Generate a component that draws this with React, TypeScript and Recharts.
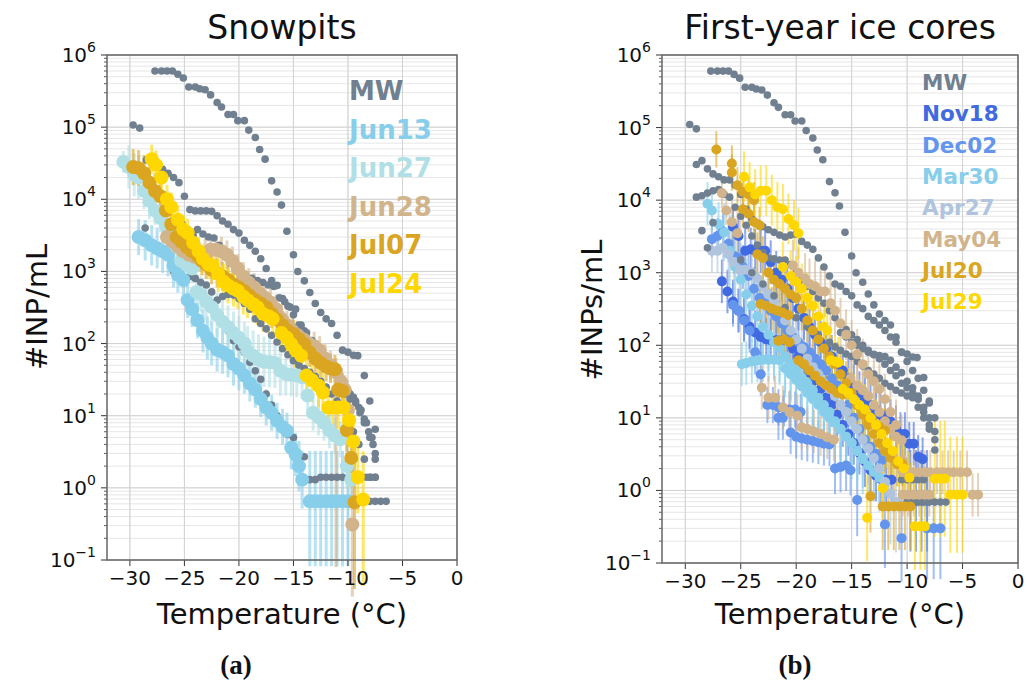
import React from 'react';
import { ScatterChart, Scatter, XAxis, YAxis, CartesianGrid, ErrorBar, ReferenceLine } from 'recharts';

// point tuples: [temperature °C, INP per mL, error down (decades), error up (decades, defaults to down)]
type Pt = number[];

const xTicks = [-30, -25, -20, -15, -10, -5, 0];
const yDecades = [0.1, 1, 10, 100, 1000, 10000, 100000, 1000000];
const yExponents = ['\u22121', '0', '1', '2', '3', '4', '5', '6'];
const yMinorSteps = [2, 3, 4, 5, 6, 7, 8, 9];

// ---------- MW reference spectra ----------
const mwTop: Pt[] = [
  [-27.7, 6.0e5], [-27.1, 6.0e5], [-26.6, 6.0e5], [-26.1, 6.0e5], [-25.6, 5.4e5], [-25.1, 4.8e5],
  [-24.6, 3.6e5], [-24.0, 3.6e5], [-23.6, 3.4e5], [-23.1, 3.3e5], [-22.6, 2.8e5], [-22.0, 2.2e5],
  [-21.6, 1.9e5], [-21.0, 1.5e5], [-20.5, 1.5e5], [-20.1, 1.23e5], [-19.5, 1.23e5], [-19.1, 9.1e4],
  [-18.5, 7.2e4], [-18.1, 4.9e4], [-17.6, 3.6e4], [-17.0, 1.8e4], [-16.5, 1.26e4], [-16.1, 8.3e3],
  [-15.6, 3.6e3], [-15.0, 1.7e3], [-14.6, 1.0e3], [-14.0, 740], [-13.5, 510], [-13.0, 360],
  [-12.5, 270], [-12.0, 220], [-11.5, 190], [-11.0, 130], [-10.5, 81], [-10.0, 76], [-9.5, 69],
  [-9.1, 68], [-8.5, 36], [-8.0, 16], [-7.5, 6.5],
];

const mwSnowB: Pt[] = [
  [-29.7, 1.07e5], [-29.1, 9.7e4], [-28.5, 3.5e4], [-28.0, 3.3e4], [-27.5, 3.0e4], [-27.0, 2.6e4],
  [-26.5, 2.3e4], [-26.0, 2.0e4], [-25.5, 1.7e4], [-25.0, 1.1e4], [-24.5, 7200], [-24.0, 6900],
  [-23.5, 6900], [-23.0, 6900], [-22.5, 6800], [-22.0, 5900], [-21.5, 5000], [-21.0, 4500],
  [-20.5, 3800], [-20.0, 3400], [-19.5, 2700], [-19.0, 2300], [-18.5, 1900], [-18.0, 1500],
  [-17.5, 1100], [-17.0, 750], [-16.5, 640], [-16.0, 420], [-15.5, 330], [-15.0, 250], [-14.5, 180],
  [-14.0, 150], [-13.5, 110], [-13.0, 90], [-12.5, 70], [-12.0, 55], [-11.5, 44], [-11.0, 36],
  [-10.5, 27], [-10.0, 22], [-9.5, 18], [-9.0, 13], [-8.5, 9], [-8.0, 5], [-7.5, 3],
];

const mwSnowC: Pt[] = [
  [-25.7, 5500], [-25.2, 4500], [-24.7, 3800], [-24.2, 3200], [-23.8, 3800], [-23.3, 3300],
  [-22.8, 3000], [-22.3, 2900], [-21.8, 2300], [-21.3, 1700], [-20.8, 1300], [-20.3, 1100],
  [-19.8, 900], [-19.3, 850], [-18.8, 800], [-18.3, 750], [-17.8, 700], [-17.3, 650], [-16.8, 620],
  [-16.3, 430], [-15.8, 380], [-15.3, 320], [-14.8, 300], [-14.3, 180], [-13.8, 140], [-13.3, 110],
  [-12.8, 90], [-12.3, 70], [-11.8, 50], [-11.3, 40], [-10.8, 30], [-10.3, 25], [-9.8, 20],
  [-9.3, 16], [-8.8, 12], [-8.3, 8], [-7.8, 5], [-7.5, 2.5],
];

const mwSnowD: Pt[] = [
  [-28.6, 4000], [-26.0, 1000], [-25.5, 850], [-25.0, 700], [-24.5, 850], [-24.0, 800], [-23.5, 700],
  [-23.0, 650], [-22.5, 520], [-22.0, 400], [-21.5, 450], [-21.0, 480], [-20.5, 470], [-20.0, 420],
  [-19.5, 360], [-19.0, 300], [-18.5, 220], [-18.0, 190], [-17.5, 160], [-17.0, 130], [-16.5, 105],
  [-16.0, 85], [-15.5, 70], [-15.0, 58], [-14.5, 50], [-14.0, 45], [-13.5, 40], [-13.0, 35],
  [-12.5, 30], [-12.0, 25], [-11.5, 20], [-11.0, 16], [-10.5, 12], [-10.0, 9], [-9.5, 6], [-9.0, 4],
  [-8.5, 2.5], [-8.0, 1.4], [-7.5, 1.4],
];

const mwSnowE: Pt[] = [
  [-21.0, 150], [-20.5, 110], [-20.0, 90], [-19.5, 75], [-19.0, 55], [-18.5, 42], [-18.0, 32],
  [-17.5, 20], [-17.0, 14], [-16.5, 10], [-16.0, 7], [-15.5, 5.5], [-15.0, 5], [-14.5, 2.8],
  [-14.0, 2.7], [-13.5, 1.3], [-13.0, 1.3], [-12.5, 1.4], [-12.0, 1.4], [-11.5, 1.4], [-11.0, 1.4],
  [-10.5, 1.4],
];

const mwSnowF: Pt[] = [
  [-10.2, 20], [-9.8, 17], [-9.3, 15], [-8.9, 11], [-8.5, 8], [-8.1, 6], [-7.7, 4], [-8.3, 1.4],
  [-7.9, 1.4], [-7.5, 1.4], [-8.0, 0.65], [-7.5, 0.65], [-7.0, 0.65], [-6.5, 0.65],
];

const mwIceB: Pt[] = [
  [-29.6, 1.1e5], [-29.0, 9.6e4], [-29.0, 3.1e4], [-28.5, 3.5e4], [-28.0, 2.7e4], [-27.5, 2.3e4],
  [-27.0, 2.1e4], [-26.5, 1.9e4], [-26.0, 1.9e4], [-25.5, 1.6e4], [-25.0, 1.2e4], [-24.5, 7500],
  [-24.0, 5500], [-23.5, 4800], [-23.0, 4300], [-22.5, 3900], [-22.0, 3600], [-21.5, 3300],
  [-21.0, 3100], [-20.5, 3300], [-20.0, 3400], [-19.5, 2700], [-19.0, 2400], [-18.5, 2100],
  [-18.0, 1600], [-17.5, 1200], [-17.0, 900], [-16.5, 700], [-16.0, 650], [-15.5, 550], [-15.0, 480],
  [-14.5, 360], [-14.0, 320], [-13.5, 250], [-13.0, 220], [-12.5, 190], [-12.0, 160], [-11.5, 130],
  [-11.0, 110], [-10.5, 80], [-10.0, 60], [-9.5, 45], [-9.0, 35], [-8.5, 24], [-8.0, 17], [-7.5, 10],
];

const mwIceC: Pt[] = [
  [-29.0, 11000], [-28.5, 11500], [-28.0, 12500], [-27.5, 13500], [-27.0, 14000], [-26.5, 12000],
  [-26.0, 11000], [-25.5, 8000], [-25.0, 6000], [-24.5, 4500], [-24.0, 3200], [-23.5, 2400],
  [-23.0, 1900], [-22.5, 1600], [-22.0, 1550], [-21.5, 1500], [-21.0, 1500], [-20.5, 1300],
  [-20.0, 1000], [-19.5, 800], [-19.0, 650], [-18.5, 550], [-18.0, 450], [-17.5, 380], [-17.0, 300],
  [-16.5, 240], [-16.0, 200], [-15.5, 165], [-15.0, 140], [-14.5, 120], [-14.0, 100], [-13.5, 80],
  [-13.0, 74], [-12.5, 72], [-12.0, 70], [-11.5, 62], [-11.0, 50], [-10.5, 42], [-10.0, 32],
  [-9.5, 26], [-9.0, 20], [-8.5, 12], [-8.0, 8], [-7.5, 5],
];

const mwIceD: Pt[] = [
  [-28.5, 3800], [-28.0, 2200], [-27.5, 4900], [-25.0, 1500], [-24.0, 1000], [-23.0, 700],
  [-22.0, 480], [-21.0, 330], [-20.0, 240], [-19.0, 180], [-18.0, 140], [-17.0, 110], [-16.5, 95],
  [-16.0, 85], [-15.5, 76], [-15.0, 70], [-14.5, 60], [-14.0, 52], [-13.5, 45], [-13.0, 40],
  [-12.5, 35], [-12.0, 30], [-11.5, 27], [-11.0, 24], [-10.5, 22], [-10.0, 20], [-9.5, 19],
  [-9.0, 14], [-8.5, 10], [-8.0, 7], [-7.5, 3.6],
];

const mwIceE: Pt[] = [
  [-10.5, 1.4], [-10.0, 1.4], [-9.5, 1.4], [-9.0, 1.4], [-8.5, 1.4], [-10.0, 0.69], [-9.5, 0.69],
  [-9.0, 0.69], [-8.5, 0.69], [-8.0, 0.69], [-7.5, 0.69], [-7.0, 0.69], [-6.5, 0.69],
];

const mwIceF: Pt[] = [
  [-16.0, 150], [-15.5, 130], [-15.0, 110], [-14.5, 100], [-14.0, 90], [-13.5, 85], [-13.0, 75],
  [-12.5, 65], [-12.0, 55], [-11.5, 45], [-11.0, 38], [-10.5, 30], [-10.0, 26], [-9.5, 22],
  [-9.0, 18], [-8.5, 14], [-8.0, 10],
];

// ---------- snowpits ----------
const jun13: Pt[] = [
  [-29.2, 3000, 0.25], [-28.6, 2700, 0.28], [-28.0, 2300, 0.28], [-27.5, 2100, 0.28], [-27.0, 1900, 0.3],
  [-26.5, 1700, 0.3], [-26.0, 1200, 0.3], [-25.6, 900, 0.25], [-25.1, 760, 0.25], [-24.7, 400, 0.25],
  [-24.3, 300, 0.25], [-23.8, 210, 0.25], [-23.3, 150, 0.3], [-22.9, 120, 0.3], [-22.5, 100, 0.3],
  [-22.0, 82, 0.3], [-21.5, 76, 0.3], [-21.0, 68, 0.3], [-20.5, 52, 0.3], [-20.0, 45, 0.3],
  [-19.5, 36, 0.25], [-19.0, 28, 0.25], [-18.5, 23, 0.25], [-18.0, 17, 0.25], [-17.5, 13, 0.25],
  [-17.0, 11, 0.25], [-16.5, 8.5, 0.25], [-16.0, 7, 0.25], [-15.6, 6.2, 0.25], [-15.2, 3.6, 0.3],
  [-14.8, 2.9, 0.3], [-14.5, 2.0, 0.35], [-14.2, 1.3, 0.4], [-13.5, 0.65, 0.9, 0.7],
  [-13.0, 0.65, 0.9, 0.7], [-12.5, 0.65, 0.9, 0.7], [-12.0, 0.65, 0.9, 0.7], [-11.5, 0.65, 0.9, 0.7],
  [-11.0, 0.65, 0.9, 0.7], [-10.5, 0.65, 0.9, 0.7], [-10.0, 0.65, 0.9, 0.7],
];

const jun27: Pt[] = [
  [-30.6, 33000, 0.15], [-30.1, 28000, 0.3], [-29.6, 22000, 0.3], [-29.2, 20000, 0.3], [-28.7, 13000, 0.25],
  [-28.2, 9500, 0.25], [-27.7, 7000, 0.2], [-27.2, 5500, 0.2], [-26.7, 4300, 0.2], [-26.2, 3400, 0.2],
  [-25.7, 2200, 0.2], [-25.3, 1400, 0.2], [-24.8, 1250, 0.2], [-24.3, 1100, 0.2], [-23.9, 520, 0.2],
  [-23.5, 480, 0.25], [-23.0, 380, 0.25], [-22.5, 320, 0.25], [-22.0, 250, 0.3], [-21.5, 200, 0.3],
  [-21.0, 170, 0.3], [-20.5, 140, 0.3], [-20.0, 120, 0.3], [-19.5, 100, 0.3], [-19.2, 78, 0.35],
  [-18.7, 68, 0.35], [-18.2, 60, 0.35], [-17.7, 56, 0.35], [-17.2, 55, 0.35], [-16.7, 54, 0.35],
  [-16.2, 42, 0.35], [-15.7, 38, 0.3], [-15.2, 37, 0.3], [-14.7, 36, 0.3], [-14.2, 34, 0.3],
  [-13.7, 19, 0.3], [-13.2, 11, 0.25], [-12.7, 9.5, 0.25], [-12.2, 8, 0.25], [-11.7, 6.3, 0.25],
  [-11.2, 5.3, 0.25], [-10.7, 4.7, 0.25], [-10.1, 2.0, 0.3], [-9.7, 1.3, 0.35],
];

const jun28: Pt[] = [
  [-26.6, 3000, 0.2], [-26.1, 2600, 0.2], [-25.6, 2200, 0.2], [-25.1, 1900, 0.2], [-24.6, 1700, 0.2],
  [-24.1, 1600, 0.2], [-23.6, 1600, 0.2], [-23.1, 1800, 0.2], [-22.6, 2000, 0.2], [-22.1, 2000, 0.2],
  [-21.6, 1900, 0.2], [-21.1, 1700, 0.2], [-20.6, 1400, 0.2], [-20.1, 1100, 0.2], [-19.6, 850, 0.2],
  [-19.1, 700, 0.2], [-18.6, 600, 0.2], [-18.1, 500, 0.2], [-17.6, 430, 0.2], [-17.1, 370, 0.2],
  [-16.6, 300, 0.2], [-16.1, 220, 0.2], [-15.6, 180, 0.2], [-15.1, 150, 0.2], [-14.6, 130, 0.2],
  [-14.1, 115, 0.2], [-13.6, 100, 0.2], [-13.1, 92, 0.2], [-12.6, 80, 0.2], [-12.1, 62, 0.2],
  [-11.6, 50, 0.2], [-11.1, 40, 2.7, 0.2], [-10.6, 29, 0.2], [-10.3, 23, 0.2], [-10.0, 12, 0.25],
  [-9.6, 0.31, 1.0, 1.5],
];

const jul07: Pt[] = [
  [-29.7, 28000, 0.25], [-29.2, 27000, 0.25], [-28.7, 23000, 0.25], [-28.2, 17000, 0.25], [-27.7, 13000, 0.25],
  [-27.2, 11000, 0.25], [-26.7, 7000, 0.2], [-26.2, 4500, 0.2], [-25.7, 3000, 0.2], [-25.3, 2600, 0.2],
  [-24.8, 2200, 0.2], [-24.3, 1900, 0.2], [-23.8, 1650, 0.2], [-23.4, 1400, 0.2], [-23.0, 1250, 0.2],
  [-22.5, 1050, 0.2], [-22.0, 950, 0.2], [-21.5, 850, 0.2], [-21.0, 760, 0.2], [-20.5, 660, 0.2],
  [-20.0, 600, 0.2], [-19.5, 530, 0.2], [-19.0, 460, 0.2], [-18.5, 400, 0.2], [-18.0, 360, 0.2],
  [-17.5, 320, 0.2], [-17.0, 260, 0.2], [-16.5, 215, 0.2], [-16.0, 180, 0.2], [-15.5, 150, 0.2],
  [-15.0, 135, 0.2], [-14.5, 115, 0.2], [-14.0, 98, 0.2], [-13.5, 75, 0.2], [-13.0, 62, 0.2],
  [-12.5, 54, 0.2], [-12.0, 48, 0.2], [-11.6, 45, 0.2], [-11.2, 44, 0.2], [-10.9, 23, 0.25],
  [-10.5, 22, 0.25], [-10.1, 6.3, 0.3], [-9.7, 2.6, 0.4], [-9.4, 0.63, 1.2, 0.85],
];

const jul24: Pt[] = [
  [-28.0, 36000, 0.2], [-27.6, 30000, 0.2], [-27.1, 20000, 0.2], [-26.6, 10000, 0.2], [-26.2, 7800, 0.2],
  [-25.6, 5200, 0.2], [-25.1, 3800, 0.2], [-24.7, 3400, 0.2], [-24.2, 2500, 0.2], [-23.7, 1900, 0.2],
  [-23.3, 1500, 0.2], [-22.8, 1250, 0.2], [-22.4, 1200, 0.2], [-21.9, 920, 0.25], [-21.4, 720, 0.25],
  [-21.0, 640, 0.25], [-20.5, 580, 0.25], [-20.1, 540, 0.25], [-19.6, 450, 0.25], [-19.2, 400, 0.25],
  [-18.7, 350, 0.25], [-18.3, 320, 0.25], [-17.8, 260, 0.25], [-17.3, 240, 0.25], [-16.9, 220, 0.25],
  [-16.1, 140, 0.25], [-15.6, 120, 0.25], [-15.2, 98, 0.25], [-14.8, 81, 0.25], [-14.3, 68, 0.25],
  [-13.8, 36, 0.3], [-13.3, 31, 0.3], [-12.7, 26, 0.3], [-12.3, 21, 0.3], [-11.8, 13, 0.3],
  [-11.4, 13, 0.3], [-10.9, 13, 0.3], [-10.4, 13, 0.3], [-9.9, 8.7, 0.3], [-9.5, 4.4, 0.35],
  [-9.1, 1.4, 0.5], [-8.6, 0.69, 1.2, 0.67],
];

// ---------- first-year ice cores ----------
const nov18a: Pt[] = [
  [-25.7, 4300, 0.3], [-25.2, 3200, 0.3], [-24.6, 2000, 0.3], [-24.1, 2100, 0.3], [-23.7, 2000, 0.3],
  [-23.2, 2000, 0.3], [-22.8, 2000, 0.3], [-22.3, 1400, 0.3], [-21.8, 1000, 0.3], [-21.3, 800, 0.3],
  [-20.8, 600, 0.3], [-20.3, 450, 0.3], [-19.8, 320, 0.3], [-19.3, 240, 0.3], [-18.8, 180, 0.3],
  [-18.3, 140, 0.3], [-17.8, 110, 0.3], [-17.3, 90, 0.3], [-16.8, 70, 0.3], [-16.3, 55, 0.3],
  [-15.8, 45, 0.3], [-15.3, 35, 0.3], [-14.8, 28, 0.3], [-14.3, 22, 0.3], [-13.8, 18, 0.3],
  [-13.3, 15, 0.3], [-12.8, 12.5, 0.3], [-12.4, 11, 0.3], [-12.0, 10.5, 0.3], [-11.5, 9, 0.3],
  [-11.0, 7.5, 0.3], [-10.6, 6, 0.3], [-10.2, 6, 0.3], [-9.8, 4.4, 0.3], [-9.4, 4.4, 0.3],
  [-9.0, 2.9, 0.3], [-8.6, 2.7, 0.3],
];
const nov18b: Pt[] = [
  [-26.7, 760, 0.3], [-26.2, 550, 0.3], [-25.7, 400, 0.3], [-25.2, 300, 0.3], [-24.7, 230, 0.3],
  [-24.2, 180, 0.3], [-23.7, 150, 0.3], [-23.2, 130, 0.3], [-22.7, 120, 0.3], [-22.3, 117, 0.3],
  [-21.8, 117, 0.3], [-21.3, 117, 0.3], [-20.8, 117, 0.3], [-20.3, 90, 0.3], [-19.8, 70, 0.3],
  [-19.3, 55, 0.3], [-18.8, 42, 0.3], [-18.3, 33, 0.3], [-17.8, 25, 0.3], [-17.3, 19, 0.3],
  [-16.8, 15, 0.3], [-16.3, 11, 0.3], [-15.8, 8, 0.3], [-15.3, 6, 0.3], [-14.8, 4.5, 0.3],
  [-14.3, 3.3, 0.3], [-13.8, 2.5, 0.35], [-13.3, 1.9, 0.35], [-12.8, 1.6, 0.35], [-12.4, 1.45, 0.4],
  [-11.9, 1.4, 0.4], [-11.4, 1.4, 0.4], [-9.7, 0.72, 0.7], [-9.2, 0.72, 0.7], [-8.7, 0.72, 0.7],
  [-8.2, 0.72, 0.7],
];

const dec02a: Pt[] = [
  [-27.6, 2900, 0.25], [-27.1, 3200, 0.25], [-26.6, 3700, 0.25], [-26.1, 2500, 0.25], [-25.6, 1700, 0.25],
  [-25.2, 1600, 0.25], [-24.8, 1200, 0.3], [-24.3, 900, 0.3], [-23.8, 600, 0.3], [-23.3, 450, 0.3],
  [-22.8, 380, 0.3], [-22.3, 300, 0.3], [-21.8, 250, 0.3], [-21.3, 200, 0.3], [-20.8, 160, 0.3],
  [-20.3, 130, 0.3], [-19.8, 110, 0.3], [-19.3, 95, 0.3], [-18.8, 80, 0.3], [-18.3, 65, 0.3],
  [-17.8, 55, 0.3], [-17.3, 45, 0.3], [-16.8, 35, 0.3], [-16.3, 28, 0.3], [-15.8, 22, 0.3],
  [-15.3, 15, 0.3], [-14.8, 10, 0.3], [-14.3, 7, 0.3], [-13.8, 5, 0.3], [-13.3, 4, 0.3],
  [-12.8, 3.2, 0.3], [-12.3, 2.6, 0.3],
];
const dec02b: Pt[] = [
  [-25.7, 360, 0.3], [-25.2, 300, 0.3], [-24.7, 220, 0.3], [-24.2, 160, 0.3], [-23.7, 80, 0.3],
  [-23.2, 40, 0.3], [-22.6, 15, 0.25], [-22.1, 15, 0.25], [-21.6, 14, 0.25], [-21.1, 13.5, 0.25],
  [-20.6, 13, 0.25], [-20.1, 13, 0.25], [-19.6, 12, 0.25],
];
const dec02c: Pt[] = [
  [-21.6, 10, 0.3], [-21.2, 10, 0.3], [-20.5, 6.3, 0.3], [-20.0, 5.5, 0.3], [-19.5, 5.2, 0.3],
  [-19.0, 5.0, 0.3], [-18.5, 4.8, 0.3], [-18.0, 4.6, 0.3], [-17.5, 4.4, 0.3], [-17.0, 4.3, 0.3],
  [-16.5, 2.0, 0.35], [-16.0, 2.1, 0.35], [-15.5, 2.2, 0.35], [-15.1, 1.9, 0.35], [-14.5, 0.74, 0.5],
  [-12.0, 0.34, 0.6], [-10.5, 0.22, 0.6], [-8.2, 0.30, 0.7], [-7.6, 0.30, 0.7], [-7.0, 0.30, 0.7],
];

const mar30a: Pt[] = [
  [-28.0, 8900, 0.3], [-27.6, 7200, 0.3], [-27.0, 4700, 0.3], [-26.5, 3600, 0.4], [-26.0, 2000, 0.5],
  [-25.5, 1200, 0.5], [-25.0, 800, 0.5], [-24.5, 500, 0.5], [-24.0, 350, 0.5], [-23.5, 250, 0.5],
  [-23.0, 180, 0.5], [-22.5, 140, 0.5], [-22.0, 110, 0.5], [-21.5, 90, 0.5], [-21.0, 70, 0.5],
  [-20.5, 55, 0.5], [-20.0, 45, 0.5], [-19.5, 36, 0.5], [-19.0, 30, 0.5], [-18.5, 24, 0.5],
  [-18.0, 19, 0.5], [-17.5, 15, 0.5], [-17.0, 12, 0.5], [-16.5, 9, 0.5], [-16.0, 7, 0.5],
  [-15.5, 5.5, 0.5], [-15.0, 4.5, 0.5], [-14.5, 3.5, 0.5], [-14.0, 2.8, 0.5],
];
const mar30b: Pt[] = [
  [-24.9, 55, 0.3], [-24.5, 57, 0.3], [-24.0, 60, 0.3], [-23.5, 62, 0.3], [-23.0, 63, 0.3],
  [-22.5, 63, 0.3], [-22.0, 63, 0.3], [-21.5, 62, 0.3], [-21.0, 48, 0.4], [-20.5, 40, 0.4],
  [-20.0, 33, 0.4], [-19.5, 27, 0.4], [-19.0, 22, 0.4], [-18.5, 18, 0.4], [-18.0, 15, 0.4],
  [-17.5, 12, 0.4], [-17.0, 10, 0.4], [-16.5, 8.5, 0.4], [-16.0, 7, 0.4], [-15.5, 5.5, 0.4],
  [-15.0, 4.5, 0.4], [-14.5, 3.5, 0.4], [-14.0, 2.7, 0.4], [-13.5, 2.2, 0.4], [-13.0, 1.8, 0.4],
  [-12.5, 1.5, 0.4], [-12.0, 1.3, 0.4],
];

const apr27: Pt[] = [
  [-27.6, 2000, 0.3], [-27.1, 2000, 0.3], [-26.6, 2200, 0.35], [-26.1, 1800, 0.4], [-25.6, 1400, 0.5],
  [-25.1, 1100, 0.5], [-24.6, 1100, 0.5], [-24.0, 1000, 0.5], [-23.5, 830, 0.5], [-23.0, 650, 0.5],
  [-22.5, 500, 0.5], [-22.0, 400, 0.5], [-21.5, 300, 0.5], [-21.0, 220, 0.5], [-20.5, 160, 0.5],
  [-20.0, 120, 0.5], [-19.5, 90, 0.5], [-19.0, 65, 0.5], [-18.5, 50, 0.5], [-18.0, 40, 0.5],
  [-17.5, 30, 0.5], [-17.0, 25, 0.5], [-16.5, 20, 0.5], [-16.0, 15, 0.5], [-15.5, 12, 0.5],
  [-15.0, 9, 0.5], [-14.5, 7, 0.5], [-14.0, 5, 0.5], [-13.5, 3.8, 0.5], [-13.0, 2.8, 0.6],
  [-12.5, 2.0, 0.6], [-12.0, 1.3, 0.7], [-11.5, 0.9, 0.7], [-11.0, 0.7, 0.7],
];

const may04a: Pt[] = [[-26.7, 12500, 0.2], [-26.3, 7200, 0.2], [-25.8, 5000, 0.3], [-25.3, 3500, 0.3]];
const may04b: Pt[] = [
  [-20.3, 1260, 0.35], [-19.8, 1000, 0.35], [-19.2, 830, 0.35], [-18.8, 700, 0.35], [-18.3, 650, 0.35],
  [-17.8, 550, 0.35], [-17.4, 550, 0.35], [-16.9, 380, 0.35], [-16.5, 300, 0.35], [-16.0, 200, 0.35],
  [-15.5, 140, 0.35], [-15.0, 100, 0.35], [-14.5, 75, 0.35], [-14.0, 55, 0.35], [-13.5, 40, 0.35],
  [-13.0, 32, 0.35], [-12.5, 25, 0.35], [-12.0, 18, 0.35], [-11.5, 12, 0.35], [-11.0, 8, 0.35],
  [-10.5, 4.9, 0.35], [-10.4, 2.6, 0.35],
];
const may04c: Pt[] = [
  [-23.1, 26, 0.3], [-22.5, 19, 0.3], [-21.9, 19, 0.3], [-21.2, 14, 0.3], [-20.6, 12, 0.3],
  [-19.9, 10.7, 0.3], [-19.5, 7.4, 0.3], [-19.0, 7, 0.3], [-18.4, 6.5, 0.3], [-17.8, 6, 0.3],
  [-17.2, 5.4, 0.3], [-16.6, 5, 0.3],
];
const may04d: Pt[] = [
  [-15.1, 35, 0.35], [-14.5, 28, 0.35], [-14.0, 24, 0.35], [-13.5, 20, 0.35], [-13.0, 15, 0.35],
  [-12.5, 12, 0.35], [-12.0, 9, 0.35], [-11.5, 7, 0.35], [-11.0, 5.5, 0.35],
];
const may04e: Pt[] = [
  [-10.4, 1.78, 0.3], [-9.9, 1.78, 0.3], [-9.4, 1.78, 0.3], [-8.9, 1.78, 0.3], [-8.4, 1.78, 0.3],
  [-7.9, 1.78, 0.3], [-7.3, 1.78, 0.3], [-6.8, 1.78, 0.3], [-6.3, 1.78, 0.3], [-5.8, 1.78, 0.3],
  [-5.2, 1.78, 0.3], [-4.6, 1.78, 0.3], [-10.4, 0.87, 0.3], [-9.9, 0.87, 0.3], [-9.4, 0.87, 0.3],
  [-8.9, 0.87, 0.3], [-8.4, 0.87, 0.3], [-8.0, 0.87, 0.3], [-4.1, 0.87, 0.3], [-3.6, 0.87, 0.3],
];

const jul20a: Pt[] = [
  [-27.2, 50000, 0.25], [-25.8, 32000, 0.25], [-25.8, 24000, 0.25], [-25.3, 16000, 0.25],
  [-24.8, 13000, 0.25], [-24.3, 12000, 0.25], [-23.8, 10000, 0.25], [-24.8, 7500, 0.25],
  [-24.3, 6500, 0.25], [-23.8, 5000, 0.25], [-23.3, 4500, 0.25],
];
const jul20b: Pt[] = [
  [-23.5, 1800, 0.3], [-23.0, 1600, 0.3], [-22.5, 1000, 0.3], [-22.0, 800, 0.3], [-21.5, 700, 0.3],
  [-21.0, 600, 0.3], [-20.5, 500, 0.3], [-20.0, 450, 0.3], [-19.5, 320, 0.3], [-19.0, 220, 0.3],
  [-18.5, 160, 0.3], [-18.0, 120, 0.3], [-17.5, 90, 0.3], [-17.0, 70, 0.3], [-16.5, 55, 0.3],
  [-16.0, 40, 0.3], [-15.5, 30, 0.3], [-15.0, 22, 0.3], [-14.5, 15, 0.3], [-14.0, 11, 0.3],
  [-13.5, 8, 0.3], [-13.0, 6, 0.3], [-12.5, 4.5, 0.3], [-12.0, 3.5, 0.3], [-11.5, 2.8, 0.3],
  [-10.9, 2.3, 0.3], [-10.4, 2.3, 0.3],
];
const jul20c: Pt[] = [
  [-23.2, 370, 0.3], [-22.7, 350, 0.3], [-22.2, 320, 0.3], [-21.7, 300, 0.3], [-21.2, 280, 0.3],
  [-20.7, 260, 0.3], [-21.6, 115, 0.3], [-21.1, 120, 0.3], [-20.6, 110, 0.3], [-19.8, 62, 0.3],
  [-19.3, 55, 0.3], [-18.8, 45, 0.3], [-18.3, 38, 0.3], [-17.8, 32, 0.3], [-17.3, 28, 0.3],
  [-16.8, 25, 0.3], [-16.3, 22, 0.3], [-15.8, 21, 0.3], [-14.5, 15, 0.3], [-14.0, 12, 0.3],
  [-13.5, 10, 0.3], [-13.0, 8.5, 0.3], [-12.5, 7.5, 0.3], [-12.0, 6.7, 0.3], [-13.3, 0.83, 0.5],
  [-12.2, 0.6, 0.6], [-11.7, 0.6, 0.6], [-11.2, 0.6, 0.6], [-10.7, 0.6, 0.6], [-10.2, 0.6, 0.6],
  [-9.7, 0.6, 0.6],
];

const jul29a: Pt[] = [
  [-24.7, 21000, 0.35], [-24.2, 15000, 0.35], [-23.7, 12000, 0.35], [-23.2, 13500, 0.35],
  [-22.7, 13500, 0.35], [-22.2, 10000, 0.35], [-21.7, 8000, 0.35], [-21.2, 7500, 0.35],
  [-20.7, 5500, 0.35], [-20.2, 4500, 0.35], [-19.8, 3500, 0.35],
];
const jul29b: Pt[] = [
  [-21.2, 1200, 0.35], [-20.5, 900, 0.35], [-20.0, 750, 0.35], [-19.5, 600, 0.35], [-19.0, 450, 0.35],
  [-18.5, 350, 0.35], [-18.0, 250, 0.35], [-17.5, 180, 0.35], [-17.2, 160, 0.35],
];
const jul29c: Pt[] = [
  [-16.9, 62, 0.35], [-16.5, 60, 0.35], [-16.2, 58, 0.35], [-15.8, 25, 0.35], [-15.3, 22, 0.35],
  [-14.8, 18, 0.35], [-14.3, 15, 0.35], [-13.8, 13, 0.35], [-13.3, 10, 0.35], [-12.8, 8, 0.35],
  [-12.3, 6, 0.35], [-11.8, 4.5, 0.35], [-11.3, 3.5, 0.35], [-10.8, 2.5, 0.35], [-10.3, 2, 0.35],
  [-9.8, 1.5, 0.35], [-12.2, 1.07, 0.4], [-13.6, 0.42, 0.6], [-9.3, 0.32, 0.6], [-8.8, 0.32, 0.6],
  [-8.4, 0.32, 0.6], [-7.5, 1.45, 0.8], [-7.0, 1.45, 0.8], [-6.6, 1.45, 0.8], [-6.1, 0.87, 0.8],
  [-5.5, 0.87, 0.8], [-5.0, 0.87, 0.8],
];

const C = {
  mw: '#708090',
  royal: '#4169E1',
  cornflower: '#6495ED',
  sky: '#87CEEB',
  powder: '#B0E0E6',
  steel: '#B0C4DE',
  tan: '#D2B48C',
  goldenrod: '#DAA520',
  gold: '#FFD700',
};

type Series = { pts: Pt[]; color: string; r: number; bar?: number };

const snowSeries: Series[] = [
  { pts: mwTop, color: C.mw, r: 3.8 },
  { pts: mwSnowB, color: C.mw, r: 3.8 },
  { pts: mwSnowC, color: C.mw, r: 3.8 },
  { pts: mwSnowD, color: C.mw, r: 3.8 },
  { pts: mwSnowE, color: C.mw, r: 3.8 },
  { pts: mwSnowF, color: C.mw, r: 3.8 },
  { pts: jun13, color: C.sky, r: 7, bar: 3 },
  { pts: jun27, color: C.powder, r: 7, bar: 3 },
  { pts: jun28, color: C.tan, r: 7, bar: 3 },
  { pts: jul07, color: C.goldenrod, r: 7, bar: 3 },
  { pts: jul24, color: C.gold, r: 7, bar: 3 },
];

const iceSeries: Series[] = [
  { pts: nov18a, color: C.royal, r: 5, bar: 2 },
  { pts: nov18b, color: C.royal, r: 5, bar: 2 },
  { pts: dec02a, color: C.cornflower, r: 5, bar: 2 },
  { pts: dec02b, color: C.cornflower, r: 5, bar: 2 },
  { pts: dec02c, color: C.cornflower, r: 5, bar: 2 },
  { pts: mar30a, color: C.sky, r: 5, bar: 2 },
  { pts: mar30b, color: C.sky, r: 5, bar: 2 },
  { pts: apr27, color: C.steel, r: 5, bar: 2 },
  { pts: mwTop, color: C.mw, r: 3.8 },
  { pts: mwIceB, color: C.mw, r: 3.8 },
  { pts: mwIceC, color: C.mw, r: 3.8 },
  { pts: mwIceD, color: C.mw, r: 3.8 },
  { pts: mwIceE, color: C.mw, r: 3.8 },
  { pts: mwIceF, color: C.mw, r: 3.8 },
  { pts: may04a, color: C.tan, r: 5, bar: 2 },
  { pts: may04b, color: C.tan, r: 5, bar: 2 },
  { pts: may04c, color: C.tan, r: 5, bar: 2 },
  { pts: may04d, color: C.tan, r: 5, bar: 2 },
  { pts: may04e, color: C.tan, r: 5, bar: 2 },
  { pts: jul20a, color: C.goldenrod, r: 5, bar: 2 },
  { pts: jul20b, color: C.goldenrod, r: 5, bar: 2 },
  { pts: jul20c, color: C.goldenrod, r: 5, bar: 2 },
  { pts: jul29a, color: C.gold, r: 5, bar: 2 },
  { pts: jul29b, color: C.gold, r: 5, bar: 2 },
  { pts: jul29c, color: C.gold, r: 5, bar: 2 },
];

const snowLegend = [
  { label: 'MW', color: C.mw },
  { label: 'Jun13', color: C.sky },
  { label: 'Jun27', color: C.powder },
  { label: 'Jun28', color: C.tan },
  { label: 'Jul07', color: C.goldenrod },
  { label: 'Jul24', color: C.gold },
];
const iceLegend = [
  { label: 'MW', color: C.mw },
  { label: 'Nov18', color: C.royal },
  { label: 'Dec02', color: C.cornflower },
  { label: 'Mar30', color: C.sky },
  { label: 'Apr27', color: C.steel },
  { label: 'May04', color: C.tan },
  { label: 'Jul20', color: C.goldenrod },
  { label: 'Jul29', color: C.gold },
];

const yTicks = yDecades.flatMap((d) => (d === 1e6 ? [d] : [d, ...yMinorSteps.map((s) => d * s)]));

// rows for recharts; error bar offsets are asymmetric because the axis is logarithmic
const toRows = (pts: Pt[]) =>
  pts.map(([x, y, lo, hi]) => ({
    x,
    y,
    err: lo === undefined ? undefined : [y - y / Math.pow(10, lo), y * Math.pow(10, hi ?? lo) - y],
  }));

const FONT = 'DejaVu Sans, sans-serif';

const XTick = (props: any) => {
  const { x, y, payload } = props;
  const v = payload.value;
  return (
    <g>
      <line x1={x} x2={x} y1={y} y2={y + 6} stroke="#333" strokeWidth={1} />
      <text x={x} y={y + 25} textAnchor="middle" fontSize={20} fontFamily={FONT} fill="#111">
        {v < 0 ? `\u2212${Math.abs(v)}` : `${v}`}
      </text>
    </g>
  );
};

const YTick = (props: any) => {
  const { x, y, payload } = props;
  const i = yDecades.findIndex((d) => Math.abs(d - payload.value) / d < 1e-6);
  if (i < 0) return <line x1={x} x2={x - 3} y1={y} y2={y} stroke="#333" strokeWidth={0.8} />;
  return (
    <g>
      <line x1={x} x2={x - 6} y1={y} y2={y} stroke="#333" strokeWidth={1} />
      <text x={x - 11} y={y + 7} textAnchor="end" fontSize={20} fontFamily={FONT} fill="#111">
        10
        <tspan dy={-10} fontSize={14}>
          {yExponents[i]}
        </tspan>
      </text>
    </g>
  );
};

const Panel = ({ left, margin, series }: { left: number; margin: any; series: Series[] }) => (
  <div style={{ position: 'absolute', left, top: 0 }}>
    <ScatterChart width={470} height={600} margin={margin}>
      <CartesianGrid stroke="#e6e6e6" strokeWidth={1} horizontalValues={yTicks} verticalValues={xTicks} />
      {yDecades.map((d) => (
        <ReferenceLine key={d} y={d} stroke="#d2d2d2" strokeWidth={1} />
      ))}
      {xTicks.map((t) => (
        <ReferenceLine key={`v${t}`} x={t} stroke="#d2d2d2" strokeWidth={1} />
      ))}
      <XAxis
        type="number"
        dataKey="x"
        domain={[-32.1, 0]}
        ticks={xTicks}
        interval={0}
        height={30}
        axisLine={false}
        tickLine={false}
        tickSize={0}
        tickMargin={0}
        tick={<XTick />}
        allowDataOverflow
      />
      <YAxis
        type="number"
        dataKey="y"
        scale="log"
        domain={[0.1, 1e6]}
        ticks={yTicks}
        interval={0}
        width={60}
        axisLine={false}
        tickLine={false}
        tickSize={0}
        tickMargin={0}
        tick={<YTick />}
        allowDataOverflow
      />
      {series.map((s, i) => (
        <Scatter
          key={i}
          data={toRows(s.pts)}
          fill={s.color}
          isAnimationActive={false}
          shape={(p: any) => <circle cx={p.cx} cy={p.cy} r={s.r} fill={s.color} />}
        >
          {s.bar ? (
            <ErrorBar
              dataKey="err"
              direction="y"
              width={0}
              stroke={s.color}
              strokeWidth={s.bar}
              strokeOpacity={0.6}
              isAnimationActive={false}
            />
          ) : null}
        </Scatter>
      ))}
    </ScatterChart>
  </div>
);

export default function App() {
  return (
    <div
      style={{
        position: 'absolute',
        left: 0,
        top: 0,
        width: 1027,
        height: 682,
        background: '#fff',
        fontFamily: FONT,
        overflow: 'hidden',
      }}
    >
      <Panel left={0} margin={{ top: 55, right: 13, bottom: 10, left: 47 }} series={snowSeries} />
      <Panel left={555} margin={{ top: 55, right: 7, bottom: 7, left: 47 }} series={iceSeries} />
      <svg
        width={1027}
        height={682}
        style={{ position: 'absolute', left: 0, top: 0, pointerEvents: 'none' }}
        fontFamily={FONT}
      >
        <rect x={107} y={55} width={350} height={505} fill="none" stroke="#666" strokeWidth={1.5} />
        <rect x={662} y={55} width={356} height={508} fill="none" stroke="#666" strokeWidth={1.5} />

        <text x={282} y={39} textAnchor="middle" fontSize={33} fill="#111">Snowpits</text>
        <text x={840} y={39} textAnchor="middle" fontSize={33} fill="#111">First-year ice cores</text>

        <text x={282} y={624} textAnchor="middle" fontSize={29} fill="#111">Temperature (°C)</text>
        <text x={840} y={624} textAnchor="middle" fontSize={29} fill="#111">Temperature (°C)</text>

        <text transform="translate(47,307) rotate(-90)" textAnchor="middle" fontSize={29} fill="#111">#INP/mL</text>
        <text transform="translate(602,310) rotate(-90)" textAnchor="middle" fontSize={29} fill="#111">#INPs/mL</text>

        {snowLegend.map((l, i) => (
          <text key={l.label} x={349} y={100 + i * 38.6} fontSize={26} fontWeight="bold" fill={l.color}>
            {l.label}
          </text>
        ))}
        {iceLegend.map((l, i) => (
          <text key={l.label} x={922} y={90 + i * 31.3} fontSize={21.5} fontWeight="bold" fill={l.color}>
            {l.label}
          </text>
        ))}

        <text x={236} y={674} textAnchor="middle" fontSize={27} fontWeight="bold" fontFamily="Liberation Serif, serif" fill="#111">(a)</text>
        <text x={795} y={674} textAnchor="middle" fontSize={27} fontWeight="bold" fontFamily="Liberation Serif, serif" fill="#111">(b)</text>
      </svg>
    </div>
  );
}
